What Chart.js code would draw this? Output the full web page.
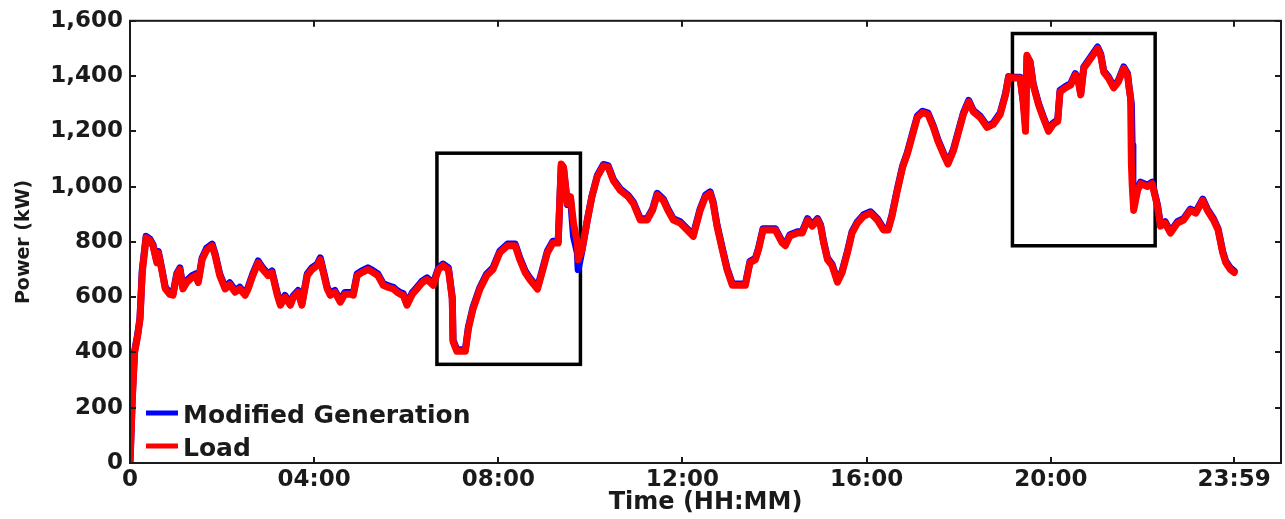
<!DOCTYPE html>
<html>
<head>
<meta charset="utf-8">
<script src="https://cdn.jsdelivr.net/npm/chart.js@4/dist/chart.umd.min.js"></script>
<style>
  html,body{margin:0;padding:0;background:#fff;}
  canvas{display:block;}
</style>
</head>
<body>
<canvas id="powerChart" width="1285" height="519"></canvas>
<script>
// time in minutes after midnight, power in kW
const xTickValues=[0,240,480,720,960,1200,1439];
const xTickLabels=['0','04:00','08:00','12:00','16:00','20:00','23:59'];
const seriesNames=['Modified Generation','Load'];

const loadKW=[
[0,0],[2,150],[3,230],[6,400],[10,460],[13,520],[16,690],[21,815],[26,805],[30,785],[35,725],[37,760],[42,690],[46,630],[52,610],[56,607],[61,680],[65,700],[69,630],[74,653],[81,671],[85,678],[89,653],[94,736],[100,771],[107,786],[111,750],[117,678],[124,630],[130,646],[137,618],[143,630],[150,607],[154,630],[160,678],[167,725],[173,700],[180,678],[185,689],[192,607],[196,571],[202,600],[209,571],[213,600],[219,618],[224,571],[231,678],[237,700],[244,714],[248,736],[252,689],[257,630],[261,607],[267,618],[274,582],[280,611],[287,611],[291,607],[296,678],[302,689],[310,700],[317,689],[323,678],[330,643],[336,636],[343,630],[348,618],[352,611],[356,607],[361,571],[368,611],[374,630],[381,653],[387,664],[395,643],[402,700],[408,714],[415,700],[420,593],[421,439],[426,404],[433,404],[437,404],[441,486],[447,557],[456,629],[465,679],[473,700],[482,761],[492,786],[502,786],[508,736],[515,689],[521,664],[531,629],[537,689],[544,761],[551,796],[558,796],[562,1082],[565,1071],[570,939],[574,964],[578,868],[583,796],[584,736],[589,771],[596,879],[602,964],[609,1036],[617,1075],[623,1071],[630,1021],[639,986],[649,964],[656,939],[665,879],[674,879],[681,914],[687,970],[695,950],[701,914],[708,879],[717,868],[726,843],[734,820],[743,914],[750,964],[756,975],[760,939],[765,857],[772,771],[778,700],[785,643],[793,643],[802,643],[808,725],[815,736],[819,771],[825,843],[832,843],[841,843],[850,796],[854,786],[860,821],[870,832],[876,832],[883,879],[889,857],[896,879],[900,857],[904,796],[909,736],[915,714],[922,654],[928,689],[935,761],[941,832],[948,868],[956,893],[965,904],[974,879],[982,843],[988,843],[993,893],[1000,986],[1007,1071],[1013,1118],[1020,1189],[1026,1250],[1033,1268],[1040,1261],[1047,1214],[1053,1164],[1060,1118],[1066,1082],[1073,1129],[1080,1200],[1086,1261],[1093,1307],[1099,1271],[1108,1250],[1117,1214],[1125,1225],[1134,1261],[1141,1332],[1145,1396],[1154,1393],[1160,1393],[1164,1307],[1167,1200],[1169,1475],[1173,1450],[1177,1368],[1184,1296],[1190,1250],[1197,1200],[1203,1225],[1209,1236],[1212,1343],[1219,1357],[1226,1368],[1232,1404],[1236,1379],[1239,1332],[1243,1428],[1252,1464],[1261,1500],[1265,1475],[1269,1414],[1275,1393],[1282,1357],[1288,1379],[1295,1428],[1300,1404],[1302,1357],[1304,1321],[1305,1082],[1306,1011],[1308,914],[1313,986],[1317,1011],[1326,1000],[1332,1011],[1339,929],[1343,857],[1349,868],[1356,832],[1365,868],[1373,879],[1382,914],[1389,904],[1398,950],[1404,914],[1412,879],[1418,843],[1424,761],[1428,725],[1434,700],[1439,689]
];

const genKW=[
[0,0],[2,160],[3,240],[6,405],[10,465],[13,525],[16,700],[21,820],[26,810],[30,790],[35,730],[37,765],[42,695],[46,635],[52,615],[56,612],[61,686],[65,706],[69,636],[74,660],[81,678],[85,684],[89,660],[94,742],[100,778],[107,792],[111,756],[117,684],[124,636],[130,652],[137,624],[143,636],[150,613],[154,636],[160,684],[167,731],[173,706],[180,684],[185,695],[192,613],[196,577],[202,606],[209,577],[213,606],[219,624],[224,577],[231,684],[237,706],[244,720],[248,742],[252,695],[257,636],[261,613],[267,624],[274,588],[280,617],[287,617],[291,613],[296,684],[302,695],[310,706],[317,695],[323,684],[330,649],[336,642],[343,636],[348,624],[352,617],[356,613],[361,577],[368,617],[374,636],[381,659],[387,670],[395,649],[402,706],[408,720],[415,706],[420,599],[421,445],[426,410],[433,410],[437,410],[441,492],[447,563],[456,635],[465,685],[473,706],[482,767],[492,792],[502,792],[508,742],[515,695],[521,670],[531,635],[537,695],[544,767],[551,802],[558,802],[562,1075],[565,1065],[570,935],[574,960],[578,820],[583,760],[584,700],[589,768],[596,880],[602,966],[609,1040],[617,1080],[623,1076],[630,1026],[639,991],[649,969],[656,944],[665,884],[674,884],[681,919],[687,976],[695,955],[701,919],[708,884],[717,873],[726,848],[734,825],[743,919],[750,969],[756,981],[760,944],[765,862],[772,776],[778,705],[785,648],[793,648],[802,648],[808,730],[815,741],[819,776],[825,848],[832,848],[841,848],[850,801],[854,791],[860,826],[870,837],[876,837],[883,884],[889,862],[896,884],[900,862],[904,801],[909,741],[915,719],[922,659],[928,694],[935,766],[941,837],[948,873],[956,898],[965,909],[974,884],[982,848],[988,848],[993,898],[1000,991],[1007,1076],[1013,1123],[1020,1194],[1026,1255],[1033,1273],[1040,1266],[1047,1219],[1053,1169],[1060,1123],[1066,1087],[1073,1134],[1080,1205],[1086,1266],[1093,1312],[1099,1276],[1108,1255],[1117,1219],[1125,1230],[1134,1266],[1141,1337],[1145,1398],[1154,1396],[1160,1396],[1164,1310],[1167,1230],[1169,1470],[1173,1452],[1177,1373],[1184,1301],[1190,1255],[1197,1205],[1203,1230],[1209,1241],[1212,1348],[1219,1362],[1226,1373],[1232,1409],[1236,1384],[1239,1337],[1243,1433],[1252,1469],[1261,1505],[1265,1480],[1269,1419],[1275,1398],[1282,1362],[1288,1384],[1295,1433],[1300,1409],[1302,1362],[1305,1300],[1306,1150],[1307,1020],[1308,930],[1313,990],[1317,1016],[1326,1005],[1332,1016],[1339,934],[1343,862],[1349,873],[1356,837],[1365,873],[1373,884],[1382,919],[1389,909],[1398,955],[1404,919],[1412,884],[1418,848],[1424,766],[1428,730],[1434,706],[1439,694]
];

// highlighted windows: [tStart, tEnd, kWLow, kWHigh]
const highlightBoxes=[[400,587,357,1121],[1150,1336,786,1554]];

const FONT='"DejaVu Sans", sans-serif';
const INK='#1a1a1a';

/* frame, inward ticks, highlight boxes and the legend */
const framePlugin={
  id:'frame',
  beforeDatasetsDraw(chart){
    const {ctx,scales:{x,y}}=chart;
    ctx.save();
    ctx.strokeStyle='#000';ctx.lineWidth=3.5;
    highlightBoxes.forEach(b=>{
      const x0=x.getPixelForValue(b[0]),x1=x.getPixelForValue(b[1]);
      const y0=y.getPixelForValue(b[3]),y1=y.getPixelForValue(b[2]);
      ctx.strokeRect(x0,y0,x1-x0,y1-y0);
    });
    ctx.restore();
  },
  afterDraw(chart){
    const {ctx,chartArea:a,scales:{x,y}}=chart;
    ctx.save();
    ctx.strokeStyle=INK;ctx.lineWidth=2;
    ctx.strokeRect(a.left,a.top,a.right-a.left,a.bottom-a.top);
    ctx.beginPath();
    y.ticks.forEach(t=>{
      const py=Math.round(y.getPixelForValue(t.value));
      ctx.moveTo(a.left,py);ctx.lineTo(a.left+6,py);
      ctx.moveTo(a.right,py);ctx.lineTo(a.right-6,py);
    });
    x.ticks.forEach(t=>{
      const px=Math.round(x.getPixelForValue(t.value));
      ctx.moveTo(px,a.bottom);ctx.lineTo(px,a.bottom-6);
      ctx.moveTo(px,a.top);ctx.lineTo(px,a.top+6);
    });
    ctx.stroke();
    // legend
    const items=[{c:'#0000ff',t:seriesNames[0],y:413},{c:'#ff0000',t:seriesNames[1],y:446}];
    ctx.font='bold 25px '+FONT;ctx.textBaseline='middle';ctx.fillStyle=INK;
    items.forEach(it=>{
      ctx.strokeStyle=it.c;ctx.lineWidth=5;
      ctx.beginPath();ctx.moveTo(146,it.y);ctx.lineTo(178,it.y);ctx.stroke();
      ctx.fillText(it.t,183,it.y+3);
    });
    ctx.restore();
  }
};

new Chart(document.getElementById('powerChart').getContext('2d'),{
  type:'line',
  data:{datasets:[
    {label:seriesNames[1],data:loadKW,borderColor:'#ff0000',borderWidth:7,pointRadius:0,tension:0,fill:false,order:0,borderJoinStyle:'round',borderCapStyle:'round'},
    {label:seriesNames[0],data:genKW,borderColor:'#0000ff',borderWidth:7,pointRadius:0,tension:0,fill:false,order:1,borderJoinStyle:'round',borderCapStyle:'round'}
  ]},
  options:{
    responsive:false,animation:false,devicePixelRatio:1,
    layout:{padding:{top:15,right:4,left:0,bottom:0}},
    plugins:{legend:{display:false},tooltip:{enabled:false}},
    scales:{
      x:{type:'linear',min:0,max:1500,
        afterFit:s=>{s.height=56;},
        afterBuildTicks:s=>{s.ticks=xTickValues.map(v=>({value:v}));},
        grid:{display:false,drawTicks:false},border:{display:false},
        ticks:{color:INK,padding:3,maxRotation:0,autoSkip:false,font:{family:FONT,size:23,weight:'bold'},callback:(v,i)=>xTickLabels[i]},
        title:{display:true,text:'Time (HH:MM)',color:INK,font:{family:FONT,size:24,weight:'bold'},padding:{top:0,bottom:2}}},
      y:{min:0,max:1600,
        afterFit:s=>{s.width=130;},
        grid:{display:false,drawTicks:false},border:{display:false},
        ticks:{stepSize:200,color:INK,padding:7,font:{family:FONT,size:23,weight:'bold'},callback:v=>v.toLocaleString('en-US')},
        title:{display:true,text:'Power (kW)',color:INK,font:{family:FONT,size:19,weight:'bold'},padding:{top:13,bottom:0}}}
    }
  },
  plugins:[framePlugin]
});
</script>
</body>
</html>
